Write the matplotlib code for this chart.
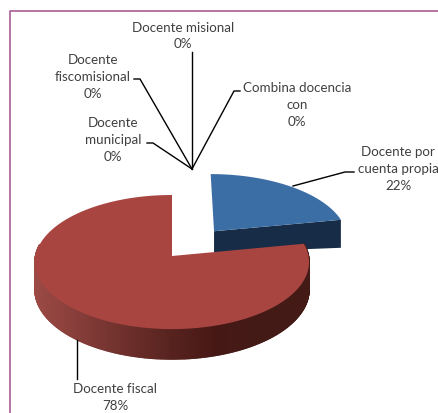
import numpy as np
import matplotlib
matplotlib.use('Agg')
import matplotlib.pyplot as plt
from matplotlib.colors import LinearSegmentedColormap

# Data
categories = ['Docente por\ncuenta propia', 'Docente fiscal', 'Docente\nmunicipal',
              'Docente\nfiscomisional', 'Docente misional', 'Combina docencia\ncon']
values = [22, 78, 0, 0, 0, 0]

plt.rcParams['font.family'] = ['Lato', 'DejaVu Sans']

# Pie projection (pixels)
cx, cy = 172, 257
rx, ry = 136.5, 66.5
persp = 0.09
depth = 27.3
explode = 0.5

# label centre, leader line points
label_pos = [(398, 169), (115, 398), (113, 140), (93, 77), (183, 36), (297, 105)]
leaders = [
    [(354, 173), (345, 173), (293, 187)],
    [(77, 341), (77, 380)],
    [(147, 144), (153, 144), (192, 170)],
    [(134, 80), (140, 80), (192, 170)],
    [(192, 53), (192, 170)],
    [(240, 92), (234, 92), (192, 170)],
]


def project(u, v, z=0.0):
    w = 1 + persp * v
    return cx + rx * u / w, cy + (-ry * v + z * depth) / w


def arc(a0, a1, n=200):
    # angles clockwise from 12 o'clock, degrees
    t = np.radians(np.linspace(a0, a1, n))
    return np.sin(t), np.cos(t)


fig = plt.figure(figsize=(4.38, 4.14), dpi=100)
ax = fig.add_axes([0, 0, 1, 1])
ax.set_xlim(0, 438)
ax.set_ylim(414, 0)
ax.axis('off')

# Frame of the pasted chart
ax.plot([9.5, 9.5, 438], [414, 11.5, 11.5], color='#a0508a', lw=1.1, solid_capstyle='butt')

total = sum(values)
blue_end = 360 * values[0] / total
mid = np.radians(blue_end / 2)
u0, v0 = explode * np.sin(mid), explode * np.cos(mid)

# Blue slice, moved out from the centre
ua, va = arc(0, blue_end)
bx, by = project(u0 + ua, v0 + va)
ax0, ay0 = project(u0, v0)
ex, ey = bx[-1], by[-1]
ax.fill([ax0, ex, ex, ax0], [ay0, ey, ey + 28, ay0 + 21.5], color='#172c47', lw=0)
ax.fill(np.r_[ax0, bx], np.r_[ay0, by], color='#3c6ea6', lw=0)

# Red slice side wall, shaded from left to right
side_cmap = LinearSegmentedColormap.from_list(
    'side', ['#9c4a45', '#863d39', '#6e302c', '#58231f', '#461815', '#431a16', '#431a16'])
us, vs = arc(blue_end, 280, 400)
x_top, y_top = project(us, vs)
x_bot, y_bot = project(us, vs, 1.0)
for i in range(len(us) - 1):
    shade = (x_top[i] - 33) / 274
    col = side_cmap(shade)
    ax.fill([x_top[i], x_top[i + 1], x_bot[i + 1], x_bot[i]],
            [y_top[i], y_top[i + 1], y_bot[i + 1], y_bot[i]],
            facecolor=col, edgecolor=col, lw=1.0)

# Red slice top
ur, vr = arc(blue_end, 360, 400)
rx_top, ry_top = project(ur, vr)
ax.fill(np.r_[cx, rx_top], np.r_[cy, ry_top], color='#a84541', lw=0)

# Labels and leader lines
for name, value, (tx, ty), pts in zip(categories, values, label_pos, leaders):
    ax.text(tx, ty, f'{name}\n{value}%', ha='center', va='center', fontsize=9.6,
            color='#404040', linespacing=1.5)
    xs, ys = zip(*pts)
    ax.plot(xs, ys, color='black', lw=1.0)

fig.savefig('out.png', dpi=100)
